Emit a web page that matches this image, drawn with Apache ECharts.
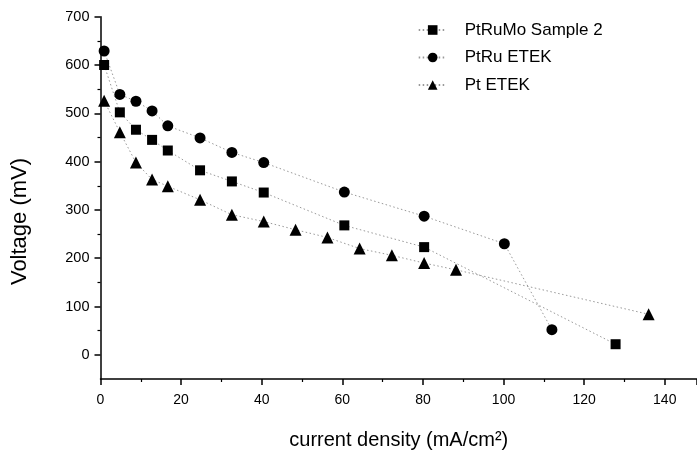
<!DOCTYPE html>
<html>
<head>
<meta charset="utf-8">
<script src="https://cdn.jsdelivr.net/npm/echarts@6/dist/echarts.min.js"></script>
<style>
html,body{margin:0;padding:0;background:#fff;}
#chart{width:697px;height:457px;}
</style>
</head>
<body>
<div id="chart"></div>
<script>
// ---- data ----
var seriesNames = ['PtRuMo Sample 2', 'PtRu ETEK', 'Pt ETEK'];

var xPtRuMo = [0.9, 4.8, 8.8, 12.8, 16.7, 24.7, 32.6, 40.5, 60.5, 80.3, 127.8];
var yPtRuMo = [600, 502, 466, 445, 423, 382, 359, 336, 268, 223, 22];

var xPtRu = [0.9, 4.8, 8.8, 12.8, 16.7, 24.7, 32.6, 40.5, 60.5, 80.3, 100.2, 112.0];
var yPtRu = [629, 539, 525, 505, 474, 449, 419, 398, 337, 287, 230, 52];

var xPt = [0.9, 4.8, 8.8, 12.8, 16.7, 24.7, 32.6, 40.5, 48.4, 56.3, 64.3, 72.3, 80.3, 88.2, 136.0];
var yPt = [526, 461, 398, 363, 349, 321, 290, 276, 259, 243, 220, 206, 190, 176, 84];

var yTickValues = [0, 100, 200, 300, 400, 500, 600, 700];
var yMinorTickValues = [50, 150, 250, 350, 450, 550, 650];
var xTitle = 'current density (mA/cm\u00B2)';
var yTitle = 'Voltage (mV)';

function pairs(xs, ys) {
  var out = [];
  for (var i = 0; i < xs.length; i++) out.push([xs[i], ys[i]]);
  return out;
}

var FONT = "'Liberation Sans', Arial, Helvetica, sans-serif";
var chart = echarts.init(document.getElementById('chart'), null, {renderer: 'canvas'});

var lineStyle = {color: '#999999', width: 1, type: [1.5, 2.5]};

function mkSeries(name, data, symbol, size) {
  return {
    name: name,
    type: 'line',
    data: data,
    symbol: symbol,
    symbolSize: size,
    showAllSymbol: true,
    itemStyle: {color: '#000', borderWidth: 0},
    lineStyle: lineStyle,
    emphasis: {disabled: true},
    animation: false,
    z: 3
  };
}

var option = {
  backgroundColor: '#fff',
  animation: false,
  textStyle: {fontFamily: FONT},
  grid: {left: 100.5, right: 0, top: 16.7, bottom: 78, containLabel: false},
  legend: {
    orient: 'vertical',
    left: 412.7,
    top: 16.5,
    itemWidth: 28,
    itemHeight: 12,
    itemGap: 10.5,
    padding: 5,
    data: seriesNames,
    textStyle: {fontFamily: FONT, fontSize: 17, color: '#000', padding: [0, 0, 0, 13]},
    selectedMode: false
  },
  graphic: [{
    type: 'text',
    x: 19.5,
    y: 221.5,
    rotation: Math.PI / 2,
    style: {
      text: yTitle,
      fontFamily: FONT,
      fontSize: 22,
      fill: '#000',
      align: 'center',
      verticalAlign: 'middle'
    }
  }],
  xAxis: {
    type: 'value',
    min: 0,
    max: 148,
    interval: 20,
    name: xTitle,
    nameLocation: 'middle',
    nameGap: 51,
    nameTextStyle: {fontFamily: FONT, fontSize: 20, color: '#000'},
    axisLine: {show: true, onZero: false, lineStyle: {color: '#000', width: 1.5}},
    axisTick: {show: true, inside: false, length: 6, lineStyle: {color: '#000', width: 1.5}},
    minorTick: {show: true, splitNumber: 2, length: 3, lineStyle: {color: '#000', width: 1.2}},
    axisLabel: {fontFamily: FONT, fontSize: 14, color: '#000', margin: 14, showMaxLabel: false},
    splitLine: {show: false},
    minorSplitLine: {show: false}
  },
  yAxis: [{
    type: 'value',
    min: -50,
    max: 700,
    axisLine: {show: true, onZero: false, lineStyle: {color: '#000', width: 1.5}},
    axisTick: {show: true, inside: false, length: 6, customValues: yTickValues, lineStyle: {color: '#000', width: 1.5}},
    axisLabel: {fontFamily: FONT, fontSize: 14.5, color: '#000', margin: 11, customValues: yTickValues},
    splitLine: {show: false}
  }, {
    type: 'value',
    min: -50,
    max: 700,
    position: 'left',
    axisLine: {show: false},
    axisTick: {show: true, inside: false, length: 3, customValues: yMinorTickValues, lineStyle: {color: '#000', width: 1.2}},
    axisLabel: {show: false},
    splitLine: {show: false}
  }],
  series: [
    mkSeries(seriesNames[0], pairs(xPtRuMo, yPtRuMo), 'rect', 10),
    mkSeries(seriesNames[1], pairs(xPtRu, yPtRu), 'circle', 11),
    mkSeries(seriesNames[2], pairs(xPt, yPt), 'triangle', 12)
  ]
};

chart.setOption(option);
</script>
</body>
</html>
